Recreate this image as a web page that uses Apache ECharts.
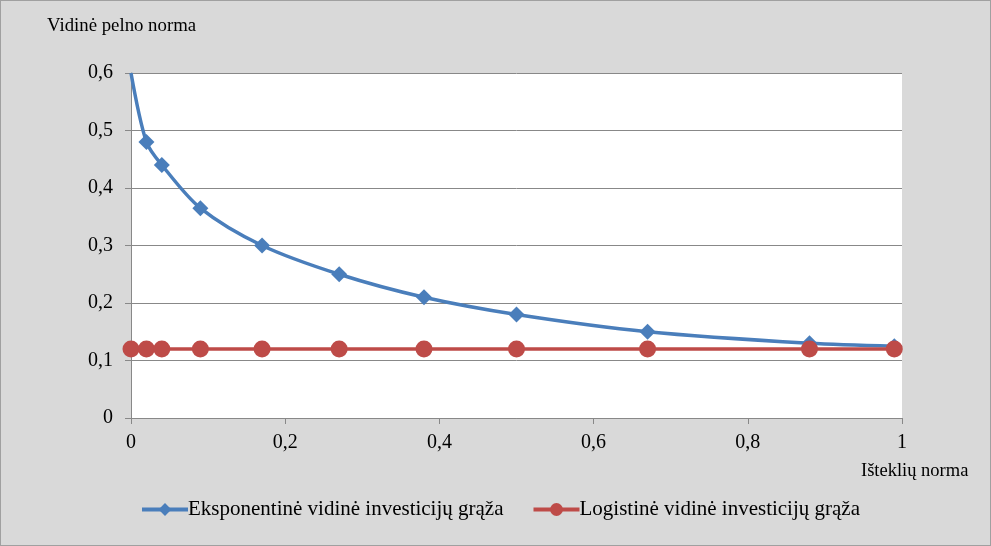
<!DOCTYPE html>
<html><head><meta charset="utf-8">
<script src="https://cdn.jsdelivr.net/npm/echarts@6/dist/echarts.min.js"></script>
<style>html,body{margin:0;padding:0;background:#d9d9d9}#c{width:991px;height:546px;box-sizing:border-box;border:1px solid #a0a0a0}</style>
</head><body><div id="c"></div>
<script>
const xValues = [0, 0.02, 0.04, 0.09, 0.17, 0.27, 0.38, 0.5, 0.67, 0.88, 0.99];
const expValues = [0.6, 0.48, 0.44, 0.365, 0.3, 0.25, 0.21, 0.18, 0.15, 0.13, 0.125];
const logValues = [0.12, 0.12, 0.12, 0.12, 0.12, 0.12, 0.12, 0.12, 0.12, 0.12, 0.12];
const seriesNames = ['Eksponentinė vidinė investicijų grąža', 'Logistinė vidinė investicijų grąža'];
const yTitle = 'Vidinė pelno norma';
const xTitle = 'Išteklių norma';

const fmt = v => String(+v.toFixed(2)).replace('.', ',');
const font = 'Liberation Serif';
const chart = echarts.init(document.getElementById('c'), null, {renderer: 'canvas'});
chart.setOption({
  backgroundColor: '#d9d9d9',
  animation: false,
  textStyle: {fontFamily: font, color: '#000'},
  grid: {left: 130, right: 88, top: 72, bottom: 127, show: true, backgroundColor: '#fff', borderWidth: 0},
  legend: {
    top: 493, left: 134, itemGap: 28, itemWidth: 46, itemHeight: 16,
    textStyle: {fontFamily: font, fontSize: 21, color: '#000', padding: [0, 0, 0, -5]},
    lineStyle: {width: 4},
    data: seriesNames
  },
  graphic: [
    {type: 'text', left: 46, top: 16, style: {text: yTitle, font: '18.8px "Liberation Serif"', fill: '#000'}},
    {type: 'text', left: 860, top: 461, style: {text: xTitle, font: '18.5px "Liberation Serif"', fill: '#000'}}
  ],
  xAxis: {
    type: 'value', min: 0, max: 1, interval: 0.2,
    axisLine: {show: true, lineStyle: {color: '#888', width: 1}},
    axisTick: {show: true, inside: false, length: 6, lineStyle: {color: '#888'}},
    splitLine: {show: false},
    axisLabel: {formatter: fmt, fontSize: 20, color: '#000', margin: 15, fontFamily: font}
  },
  yAxis: {
    type: 'value', min: 0, max: 0.6, interval: 0.1,
    axisLine: {show: true, lineStyle: {color: '#888', width: 1}},
    axisTick: {show: true, inside: false, length: 6, lineStyle: {color: '#888'}},
    splitLine: {show: true, lineStyle: {color: '#888', width: 1}},
    axisLabel: {formatter: fmt, fontSize: 20, color: '#000', margin: 18, fontFamily: font}
  },
  series: [
    {
      name: seriesNames[0], type: 'line', smooth: 0.3, symbol: 'diamond', symbolSize: 16,
      color: '#4a7ebb', lineStyle: {width: 3.5, color: '#4a7ebb'}, itemStyle: {color: '#4a7ebb'},
      clip: true, z: 2,
      data: xValues.map((x, i) => i === 0 ? {value: [x, expValues[i]], symbolSize: 0} : [x, expValues[i]])
    },
    {
      name: seriesNames[1], type: 'line', smooth: false, symbol: 'circle', symbolSize: 17,
      color: '#be4b48', lineStyle: {width: 3.5, color: '#be4b48'}, itemStyle: {color: '#be4b48'},
      clip: false, z: 3,
      data: xValues.map((x, i) => [x, logValues[i]])
    }
  ]
});
</script></body></html>
